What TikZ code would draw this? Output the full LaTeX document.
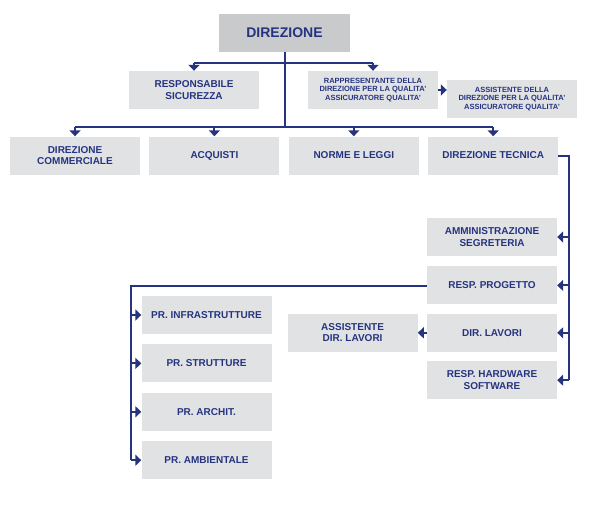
\documentclass[tikz,border=0pt]{standalone}
\usepackage{fontspec}
\setmainfont{Liberation Sans}
\usetikzlibrary{arrows.meta,positioning}
\definecolor{orgnavy}{RGB}{38,52,128}
\definecolor{orgfill}{RGB}{225,226,228}
\definecolor{orghead}{RGB}{201,202,204}
\tikzset{
  orgbox/.style={fill=orgfill, text=orgnavy, align=center, font=\bfseries\fontsize{10}{11.5}\selectfont,
    minimum width=130pt, minimum height=38pt, inner sep=1pt},
  orgsmall/.style={orgbox, font=\bfseries\fontsize{7.5}{8.7}\selectfont},
  orgline/.style={draw=orgnavy, line width=2pt},
  orgarrow/.style={orgline, -{Triangle[length=6pt,width=11pt]}}
}

\begin{document}
\begin{tikzpicture}[x=1pt, y=-1pt, node distance=9pt]
    \useasboundingbox (0,0) rectangle (596,511);
    \node[orgbox, fill=orghead, minimum width=131pt, font=\bfseries\fontsize{14}{16}\selectfont] (direzione) at (284.5,33) {DIREZIONE};
    \node[orgbox] (sicurezza) at (194,90) {RESPONSABILE\\SICUREZZA};
    \node[orgsmall] (rappr) at (373,90) {RAPPRESENTANTE DELLA\\DIREZIONE PER LA QUALITA'\\ASSICURATORE QUALITA'};
    \node[orgsmall] (assist) at (512,99) {ASSISTENTE DELLA\\DIREZIONE PER LA QUALITA'\\ASSICURATORE QUALITA'};
    \node[orgbox] (commerciale) at (75,155.5) {DIREZIONE\\COMMERCIALE};
    \node[orgbox, right=of commerciale] (acquisti) {ACQUISTI};
    \node[orgbox, right=of acquisti] (norme) {NORME E LEGGI};
    \node[orgbox, right=of norme] (tecnica) {DIREZIONE TECNICA};
    \node[orgbox] (ammin) at (492,237) {AMMINISTRAZIONE\\SEGRETERIA};
    \node[orgbox, below=10pt of ammin] (progetto) {RESP. PROGETTO};
    \node[orgbox, below=of progetto] (lavori) {DIR. LAVORI};
    \node[orgbox, below=of lavori] (hardware) {RESP. HARDWARE\\SOFTWARE};
    \node[orgbox, left=of lavori] (assdl) {ASSISTENTE\\DIR. LAVORI};
    \node[orgbox] (infra) at (206.5,315) {PR. INFRASTRUTTURE};
    \node[orgbox, below=10pt of infra] (strutt) {PR. STRUTTURE};
    \node[orgbox, below=10pt of strutt] (archit) {PR. ARCHIT.};
    \node[orgbox, below=10pt of archit] (ambient) {PR. AMBIENTALE};
    \coordinate (topbus) at (284.5,63);
    \coordinate (midbus) at (284.5,127);
    \coordinate (rightspine) at (569,156);
    \coordinate (leftspine) at (131,286);
    \draw[orgline] (direzione.south) -- (midbus);
    \draw[orgline] (sicurezza.north |- topbus) -- (rappr.north |- topbus);
    \draw[orgarrow] (sicurezza.north |- topbus) -- (sicurezza.north);
    \draw[orgarrow] (rappr.north |- topbus) -- (rappr.north);
    \draw[orgarrow] (rappr.east) -- (rappr.east -| assist.west);
    \draw[orgline] (commerciale.north |- midbus) -- (tecnica.north |- midbus);
    \foreach \n in {commerciale, acquisti, norme, tecnica}
      \draw[orgarrow] (\n.north |- midbus) -- (\n.north);
    \draw[orgline] (tecnica.east |- rightspine) -- (rightspine) -- (rightspine |- hardware);
    \foreach \n in {ammin, progetto, lavori, hardware}
      \draw[orgarrow] (rightspine |- \n) -- (\n.east);
    \draw[orgline] (progetto.west |- leftspine) -- (leftspine) -- (leftspine |- ambient);
    \foreach \n in {infra, strutt, archit, ambient}
      \draw[orgarrow] (leftspine |- \n) -- (\n.west);
    \draw[orgarrow] (lavori.west) -- (assdl.east);
\end{tikzpicture}
\end{document}
